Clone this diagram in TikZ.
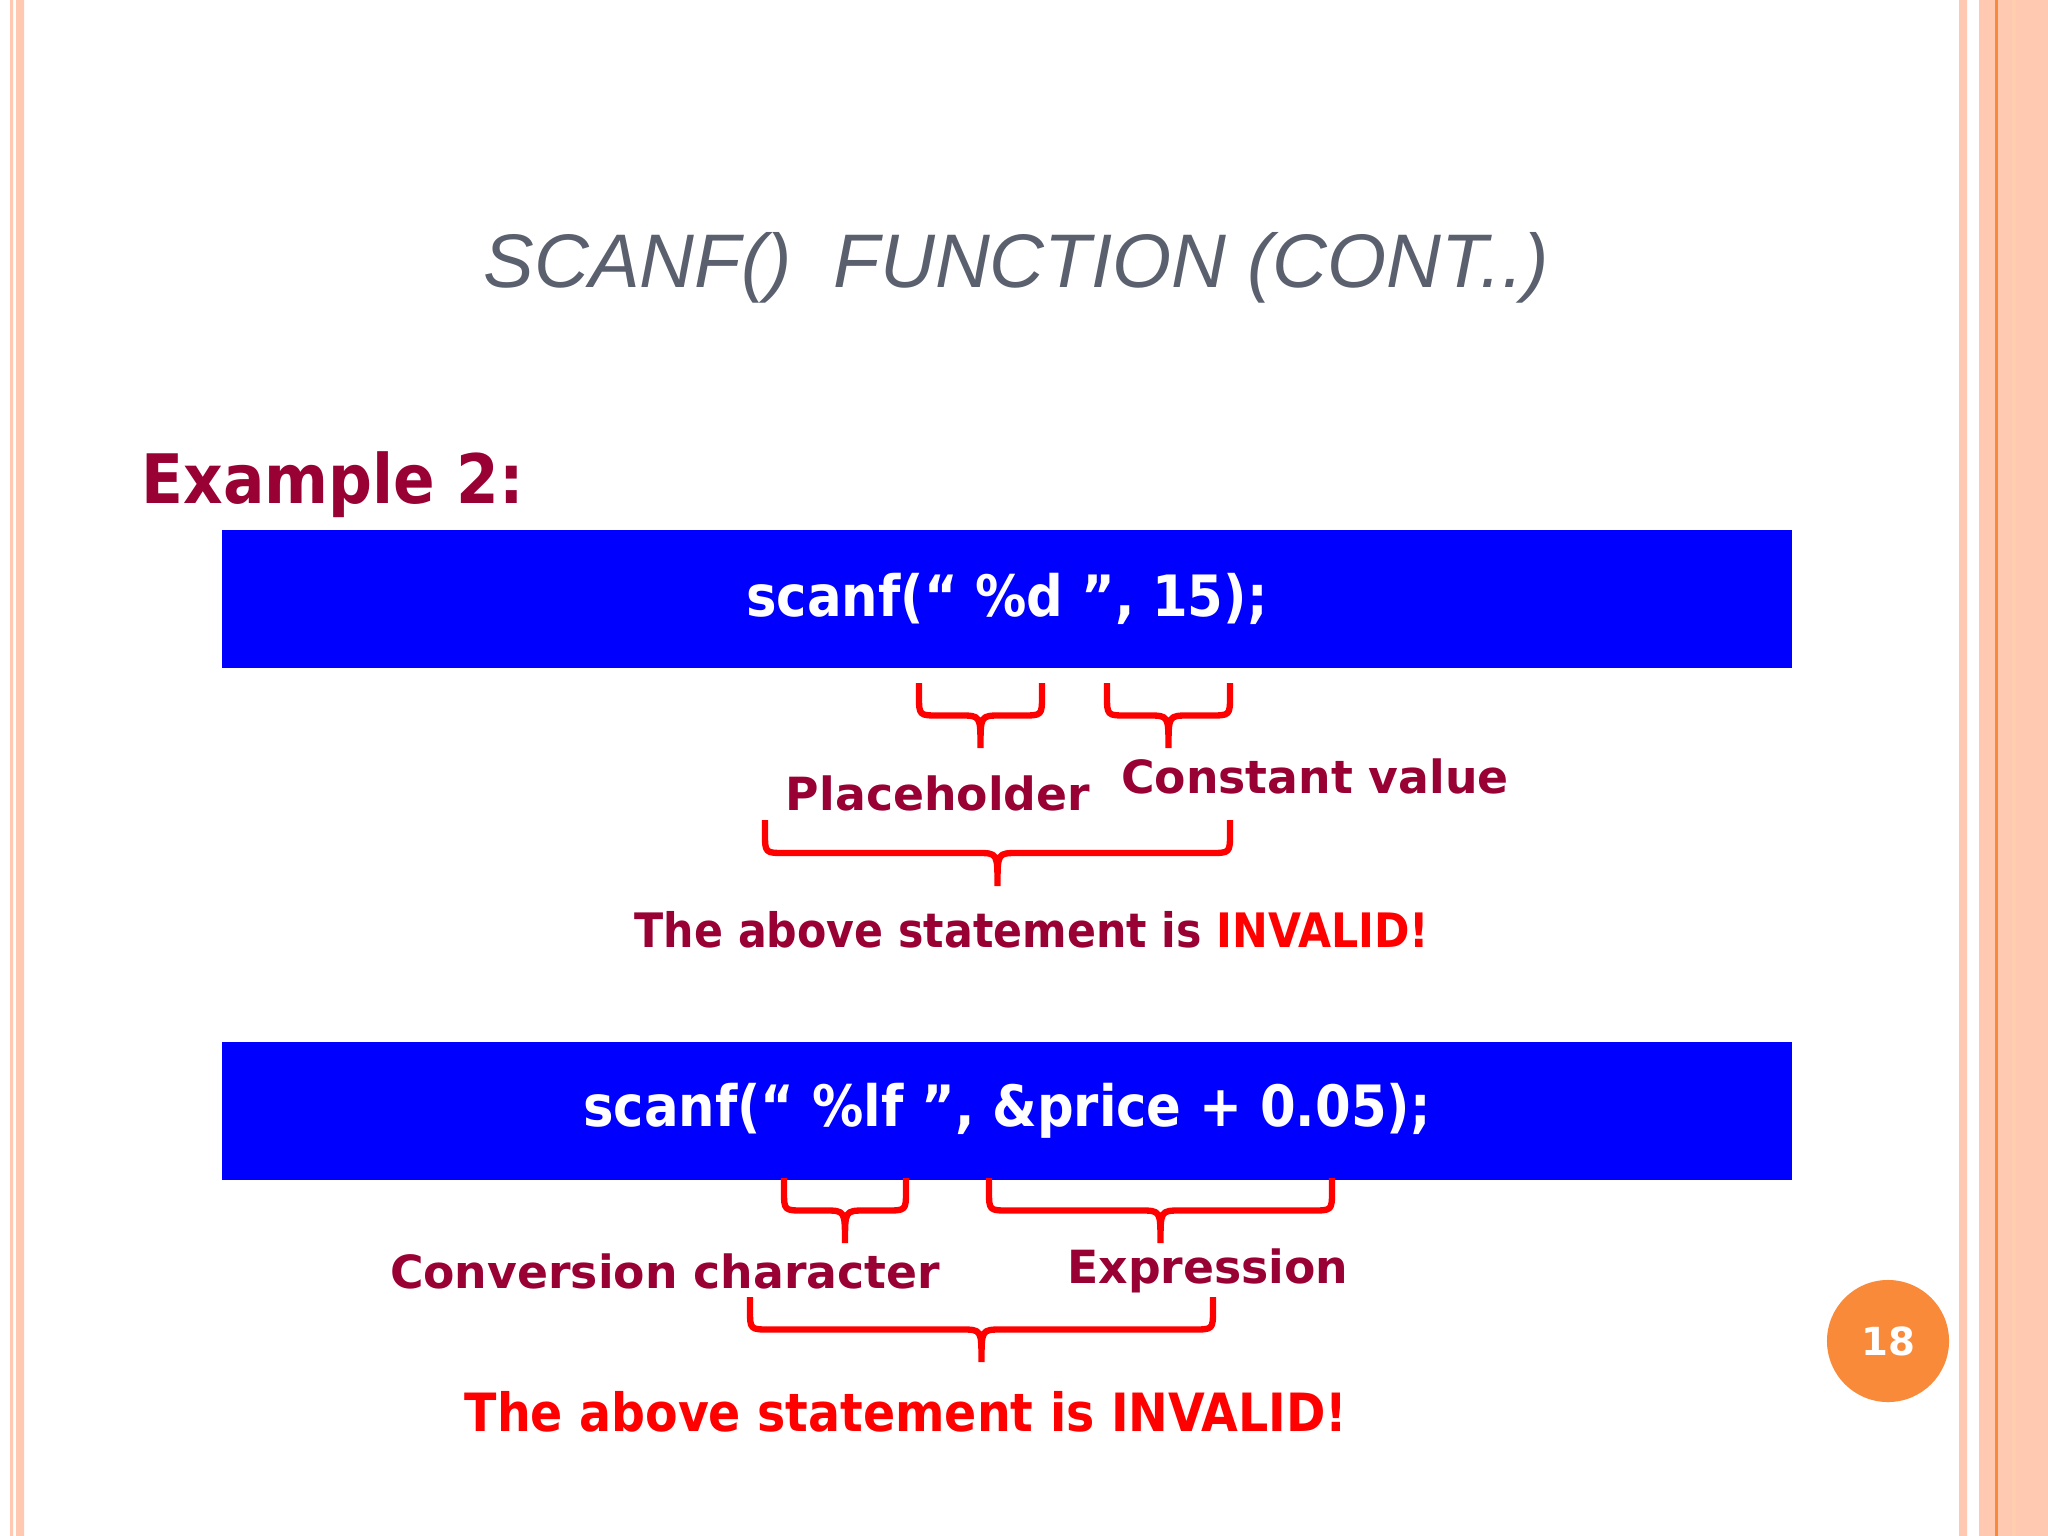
\documentclass[tikz,border=0pt]{standalone}
\usepackage{fontspec}
\setmainfont{DejaVu Sans}
\newfontfamily\cond{DejaVu Sans Condensed}
\newfontfamily\ttl{Liberation Sans}
\definecolor{dred}{HTML}{990033}
\definecolor{sal}{HTML}{FFC8B0}
\definecolor{org}{HTML}{F98A3A}
\newcommand\brc[4]{%
\pgfmathsetmacro\bc{(#1+#2)/2}\pgfmathsetmacro\bm{#3+(#4-#3)*0.5}\pgfmathsetmacro\br{20}%
\draw[red,line width=1.8pt,line join=round] (#1,#3) -- (#1,\bm-\br) .. controls (#1,\bm) .. (#1+\br,\bm) -- (\bc-\br,\bm) .. controls (\bc,\bm) .. (\bc,#4)
 (\bc,#4) .. controls (\bc,\bm) .. (\bc+\br,\bm) -- (#2-\br,\bm) .. controls (#2,\bm) .. (#2,\bm-\br) -- (#2,#3);}
\tikzset{lbl/.style={text=dred,font=\bfseries\fontsize{13}{16}\selectfont},
code/.style={fill={rgb,255:red,0;green,0;blue,255},minimum width=15.7cm,minimum height=1.37cm,text=white,font=\cond\bfseries\fontsize{16.2}{20}\selectfont}}
\begin{document}
\begin{tikzpicture}[x=0.01cm,y=-0.01cm]
\useasboundingbox (0,0) rectangle (2048,1536);
\fill[white] (0,0) rectangle (2048,1536);
% borders
\fill[sal] (10,0) rectangle (13,1536) (16,0) rectangle (24,1536);
\fill[sal] (1959,0) rectangle (1967,1536) (1979,0) rectangle (2048,1536);
\fill[sal!80!orange!70] (2012,0) rectangle (2016,1536);
\fill[org] (1995,0) rectangle (1998,1536);
\node[text={rgb,255:red,90;green,96;blue,110},font=\ttl\itshape\fontsize{21.6}{26}\selectfont] (title) at (1016,268) {SCANF()\ \ FUNCTION (CONT..)};
\node[anchor=base west,text=dred,font=\cond\bfseries\fontsize{19.4}{24}\selectfont,inner sep=0] (ex) at (141,503) {Example 2:};
\node[code] (c1) at (1007,599) {scanf(“ \%d ”, 15);};
\brc{919}{1042}{683}{748}
\brc{1107}{1230}{683}{748}
\node[lbl] (ph) at (938,793) {Placeholder};
\node[lbl] (cv) at (1315,776) {Constant value};
\brc{765}{1230}{820}{886}
\node[text=dred,font=\cond\bfseries\fontsize{13.5}{17}\selectfont] (t1) at (1032,930) {The above statement is \textcolor{red}{INVALID!}};
\node[code] (c2) at (1007,1111) {scanf(“ \%lf ”, \&price + 0.05);};
\brc{784}{906}{1178}{1243}
\brc{989}{1332}{1178}{1243}
\node[lbl] (cc) at (665,1271) {Conversion character};
\node[lbl] (expr) at (1208,1271) {Expression};
\brc{750}{1213}{1297}{1362}
\node[text=red,font=\cond\bfseries\fontsize{15}{19}\selectfont] (t2) at (906,1412) {The above statement is INVALID!};
\node[circle,fill=org,minimum size=1.22cm,text=white,font=\bfseries\fontsize{11}{13}\selectfont] (pg) at (1888,1341) {18};
\end{tikzpicture}
\end{document}
